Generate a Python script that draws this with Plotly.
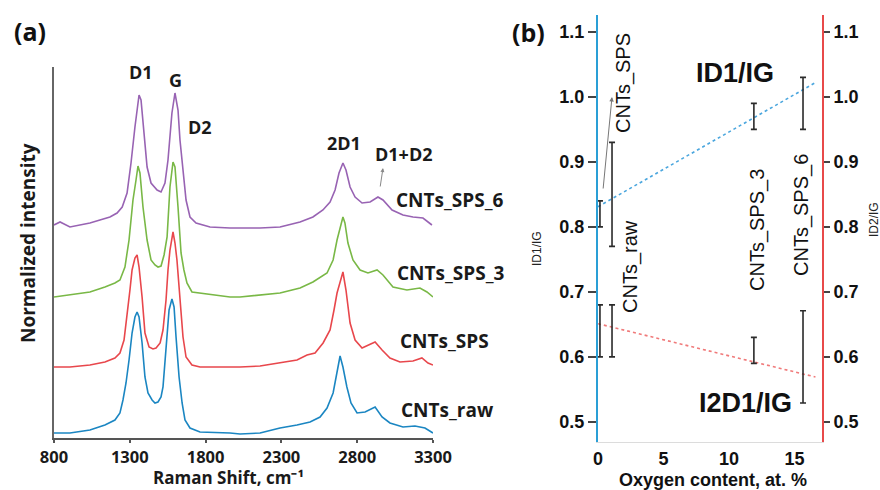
import plotly.graph_objects as go

W, H = 880, 490

# ---------------- Panel (a): Raman spectra (offset, normalized) ----------------
raman_ticks = [800, 1300, 1800, 2300, 2800, 3300]

shift_sps6 = [800, 840, 905, 970, 1037, 1103, 1169, 1216, 1250, 1282, 1308, 1334, 1361, 1374,
              1394, 1414, 1440, 1480, 1506, 1532, 1552, 1578, 1598, 1618, 1631, 1651, 1671, 1697,
              1737, 1829, 1961, 2093, 2159, 2291, 2423, 2508, 2574, 2621, 2654, 2680, 2706, 2726,
              2753, 2786, 2832, 2885, 2937, 2970, 3030, 3102, 3168, 3234, 3293]
int_sps6 = [2.13, 2.16, 2.11, 2.13, 2.15, 2.18, 2.21, 2.25, 2.31, 2.45, 2.75, 3.11, 3.43, 3.38,
            3.01, 2.71, 2.55, 2.48, 2.46, 2.55, 2.78, 3.25, 3.45, 3.28, 2.98, 2.65, 2.38, 2.21,
            2.15, 2.11, 2.10, 2.10, 2.10, 2.11, 2.16, 2.21, 2.28, 2.36, 2.48, 2.65, 2.75, 2.68,
            2.51, 2.41, 2.35, 2.36, 2.41, 2.38, 2.28, 2.23, 2.21, 2.20, 2.13]

shift_sps3 = [800, 905, 1037, 1136, 1202, 1235, 1268, 1295, 1321, 1341, 1354, 1367, 1387, 1414,
              1440, 1466, 1486, 1506, 1526, 1546, 1565, 1585, 1598, 1618, 1638, 1657, 1677, 1710,
              1763, 1961, 2027, 2291, 2423, 2508, 2601, 2641, 2667, 2693, 2706, 2719, 2739, 2772,
              2819, 2871, 2931, 2970, 3036, 3128, 3214, 3260, 3300]
int_sps3 = [1.41, 1.43, 1.46, 1.51, 1.55, 1.58, 1.71, 1.98, 2.38, 2.58, 2.72, 2.65, 2.31, 1.98,
            1.78, 1.73, 1.71, 1.72, 1.83, 2.01, 2.51, 2.76, 2.71, 2.31, 1.85, 1.68, 1.55, 1.46,
            1.45, 1.41, 1.41, 1.45, 1.50, 1.56, 1.65, 1.78, 1.98, 2.15, 2.21, 2.15, 1.95, 1.78,
            1.68, 1.65, 1.68, 1.63, 1.51, 1.48, 1.50, 1.46, 1.41]

shift_sps = [800, 905, 1037, 1136, 1202, 1235, 1262, 1282, 1301, 1315, 1334, 1348, 1361, 1381,
             1400, 1427, 1453, 1473, 1500, 1519, 1539, 1552, 1565, 1585, 1598, 1611, 1631, 1651,
             1671, 1710, 1763, 1961, 2027, 2159, 2291, 2403, 2469, 2522, 2575, 2621, 2647, 2667,
             2706, 2726, 2753, 2786, 2832, 2871, 2918, 2964, 3016, 3082, 3168, 3227, 3267, 3300]
int_sps = [0.71, 0.71, 0.73, 0.76, 0.80, 0.85, 0.98, 1.21, 1.48, 1.68, 1.80, 1.83, 1.71, 1.41,
           1.05, 0.91, 0.89, 0.90, 0.95, 1.08, 1.38, 1.68, 1.88, 2.06, 1.95, 1.78, 1.38, 1.01,
           0.81, 0.73, 0.71, 0.71, 0.71, 0.72, 0.75, 0.78, 0.83, 0.85, 0.95, 1.08, 1.28, 1.45,
           1.66, 1.48, 1.15, 0.98, 0.90, 0.93, 0.96, 0.88, 0.80, 0.76, 0.77, 0.80, 0.75, 0.73]

shift_raw = [800, 905, 1037, 1136, 1202, 1235, 1255, 1275, 1295, 1315, 1334, 1348, 1361, 1381,
             1400, 1420, 1447, 1466, 1486, 1506, 1519, 1532, 1546, 1559, 1578, 1592, 1605, 1625,
             1645, 1664, 1697, 1763, 1961, 2027, 2159, 2291, 2403, 2489, 2555, 2601, 2641, 2667,
             2687, 2706, 2732, 2759, 2799, 2852, 2918, 2964, 3016, 3102, 3181, 3247, 3300]
int_raw = [0.05, 0.05, 0.08, 0.13, 0.18, 0.25, 0.38, 0.55, 0.78, 1.05, 1.21, 1.26, 1.21, 0.95,
           0.61, 0.45, 0.38, 0.35, 0.36, 0.41, 0.51, 0.78, 1.05, 1.28, 1.39, 1.31, 1.01, 0.61,
           0.35, 0.18, 0.10, 0.06, 0.05, 0.04, 0.05, 0.10, 0.13, 0.16, 0.21, 0.30, 0.45, 0.65,
           0.82, 0.71, 0.51, 0.35, 0.25, 0.26, 0.31, 0.21, 0.15, 0.11, 0.12, 0.10, 0.05]

spectra_names = ["CNTs_raw", "CNTs_SPS", "CNTs_SPS_3", "CNTs_SPS_6"]
spectra_colors = ["#1b86c2", "#e8474c", "#79b846", "#9863b3"]

# ---------------- Panel (b): intensity ratios vs oxygen content ----------------
samples = ["CNTs_raw", "CNTs_SPS", "CNTs_SPS_3", "CNTs_SPS_6"]
oxygen = [0.15, 1.07, 11.9, 15.65]
id1_ig = [0.82, 0.85, 0.97, 0.99]
id1_ig_err = [0.02, 0.08, 0.02, 0.04]
i2d1_ig = [0.64, 0.64, 0.61, 0.60]
i2d1_ig_err = [0.04, 0.04, 0.02, 0.071]
trend_x = [0.0, 16.6]
trend_id1 = [0.831, 1.022]
trend_i2d1 = [0.651, 0.569]
ratio_ticks = [0.5, 0.6, 0.7, 0.8, 0.9, 1.0, 1.1]
oxygen_ticks = [0, 5, 10, 15]

fig = go.Figure()

for name, xs, ys, col in zip(spectra_names,
                             [shift_raw, shift_sps, shift_sps3, shift_sps6],
                             [int_raw, int_sps, int_sps3, int_sps6],
                             spectra_colors):
    fig.add_trace(go.Scatter(x=xs, y=ys, mode="lines", name=name,
                             line=dict(color=col, width=1.6), xaxis="x", yaxis="y"))

fig.add_trace(go.Scatter(x=trend_x, y=trend_id1, mode="lines",
                         line=dict(color="#4aa6de", width=1.6, dash="dot"),
                         xaxis="x2", yaxis="y2"))
fig.add_trace(go.Scatter(x=trend_x, y=trend_i2d1, mode="lines",
                         line=dict(color="#f07a7a", width=1.6, dash="dot"),
                         xaxis="x2", yaxis="y3"))

fig.add_trace(go.Scatter(x=oxygen, y=id1_ig, mode="markers",
                         marker=dict(size=1, color="rgba(0,0,0,0)"),
                         error_y=dict(type="data", array=id1_ig_err, color="#2b2b2b",
                                      thickness=1.6, width=3),
                         xaxis="x2", yaxis="y2"))
fig.add_trace(go.Scatter(x=oxygen, y=i2d1_ig, mode="markers",
                         marker=dict(size=1, color="rgba(0,0,0,0)"),
                         error_y=dict(type="data", array=i2d1_ig_err, color="#2b2b2b",
                                      thickness=1.6, width=3),
                         xaxis="x2", yaxis="y3"))

fa = dict(family="Open Sans", size=18, color="#1a1a1a", weight="bold")
fb = dict(family="Liberation Sans", size=18, color="#111", weight="bold")

fig.update_layout(
    width=W, height=H, template="none", showlegend=False,
    margin=dict(l=0, r=0, t=0, b=0),
    paper_bgcolor="white", plot_bgcolor="rgba(0,0,0,0)",
    xaxis=dict(domain=[54 / W, 433 / W], anchor="y", range=[800, 3300],
               tickvals=raman_ticks, ticks="outside", ticklen=3, tickwidth=1.5,
               tickcolor="#555", showline=True, linecolor="#555", linewidth=2,
               showgrid=False, zeroline=False, tickfont=dict(fa, size=16.5),
               automargin=False),
    yaxis=dict(domain=[1 - 438 / H, 1 - 67 / H], anchor="x", range=[0, 3.71],
               showline=True, linecolor="#666", linewidth=2, showticklabels=False,
               ticks="", showgrid=False, zeroline=False, automargin=False),
    xaxis2=dict(domain=[598 / W, 822 / W], anchor="y2", range=[0, 17.1],
                tickvals=oxygen_ticks, ticks="", showline=True, linecolor="#dcdcdc",
                linewidth=1, showgrid=False, zeroline=False, tickfont=fb,
                automargin=False),
    yaxis2=dict(domain=[1 - 442 / H, 1 - 15 / H], anchor="x2", range=[0.469, 1.126],
                tickvals=ratio_ticks, tickformat=".1f", ticks="outside", ticklen=8,
                tickwidth=1.5, tickcolor="#444", showline=True, linecolor="#2a9fd6",
                linewidth=2, showgrid=False, zeroline=False, tickfont=fb,
                automargin=False),
    yaxis3=dict(overlaying="y2", side="right", anchor="x2", range=[0.469, 1.126],
                tickvals=ratio_ticks, tickformat=".1f", ticks="outside", ticklen=6,
                tickwidth=1.5, tickcolor="#444", showline=True, linecolor="#e84a4a",
                linewidth=1.6, showgrid=False, zeroline=False, tickfont=fb,
                automargin=False),
)


def at(px, py, xa="center", ya="middle"):
    return dict(x=px / W, y=1 - py / H, xref="paper", yref="paper",
                xanchor=xa, yanchor=ya, showarrow=False)


ann = []
# panel letters
ann.append(dict(at(30, 31), text="(a)", font=dict(family="Open Sans", size=25, color="#111", weight="bold")))
ann.append(dict(at(528, 32), text="(b)", font=dict(family="Open Sans", size=25, color="#111", weight="bold")))
# panel (a) texts
ann.append(dict(at(28, 243), text="Normalized intensity", textangle=-90, font=dict(fa, size=19)))
ann.append(dict(at(228, 477), text="Raman Shift, cm⁻¹", font=dict(fa, size=17)))
for txt, x, y in [("D1", 141, 72), ("G", 175, 80), ("D2", 200, 127), ("2D1", 344, 143),
                  ("D1+D2", 404, 154)]:
    ann.append(dict(at(x, y), text=txt, font=dict(fa, size=18)))
for txt, x, y in [("CNTs_SPS_6", 449, 200), ("CNTs_SPS_3", 450, 273),
                  ("CNTs_SPS", 444, 341), ("CNTs_raw", 447, 410)]:
    ann.append(dict(at(x, y), text=txt, font=dict(fa, size=19)))
ann.append(dict(x=383 / W, y=1 - 168 / H, xref="paper", yref="paper", text="",
                showarrow=True, ax=-3, ay=20, arrowcolor="#888", arrowwidth=1,
                arrowhead=2, arrowsize=0.8))
# panel (b) texts
rl = dict(family="Liberation Sans", size=20, color="#111")
for txt, x, y in [("CNTs_SPS", 623, 83), ("CNTs_raw", 630, 267),
                  ("CNTs_SPS_3", 757, 230), ("CNTs_SPS_6", 802, 215)]:
    ann.append(dict(at(x, y), text=txt, textangle=-90, font=rl))
big = dict(family="Liberation Sans", size=27, color="#111", weight="bold")
ann.append(dict(at(735, 73), text="ID1/IG", font=big))
ann.append(dict(at(745, 403), text="I2D1/IG", font=big))
ann.append(dict(at(713, 480), text="Oxygen content, at. %", font=fb))
small = dict(family="Liberation Sans", size=12, color="#222")
ann.append(dict(at(537, 249), text="ID1/IG", textangle=-90, font=small))
ann.append(dict(at(874, 220), text="ID2/IG", textangle=-90, font=small))
ann.append(dict(x=612 / W, y=1 - 97 / H, xref="paper", yref="paper", text="",
                showarrow=True, ax=-9, ay=93, arrowcolor="#777", arrowwidth=1,
                arrowhead=2, arrowsize=0.9))

fig.update_layout(annotations=ann)
fig.write_html("out.html", config={"displayModeBar": False},
               post_script="document.body.style.margin='0';"
                           "document.body.style.overflow='hidden';")
